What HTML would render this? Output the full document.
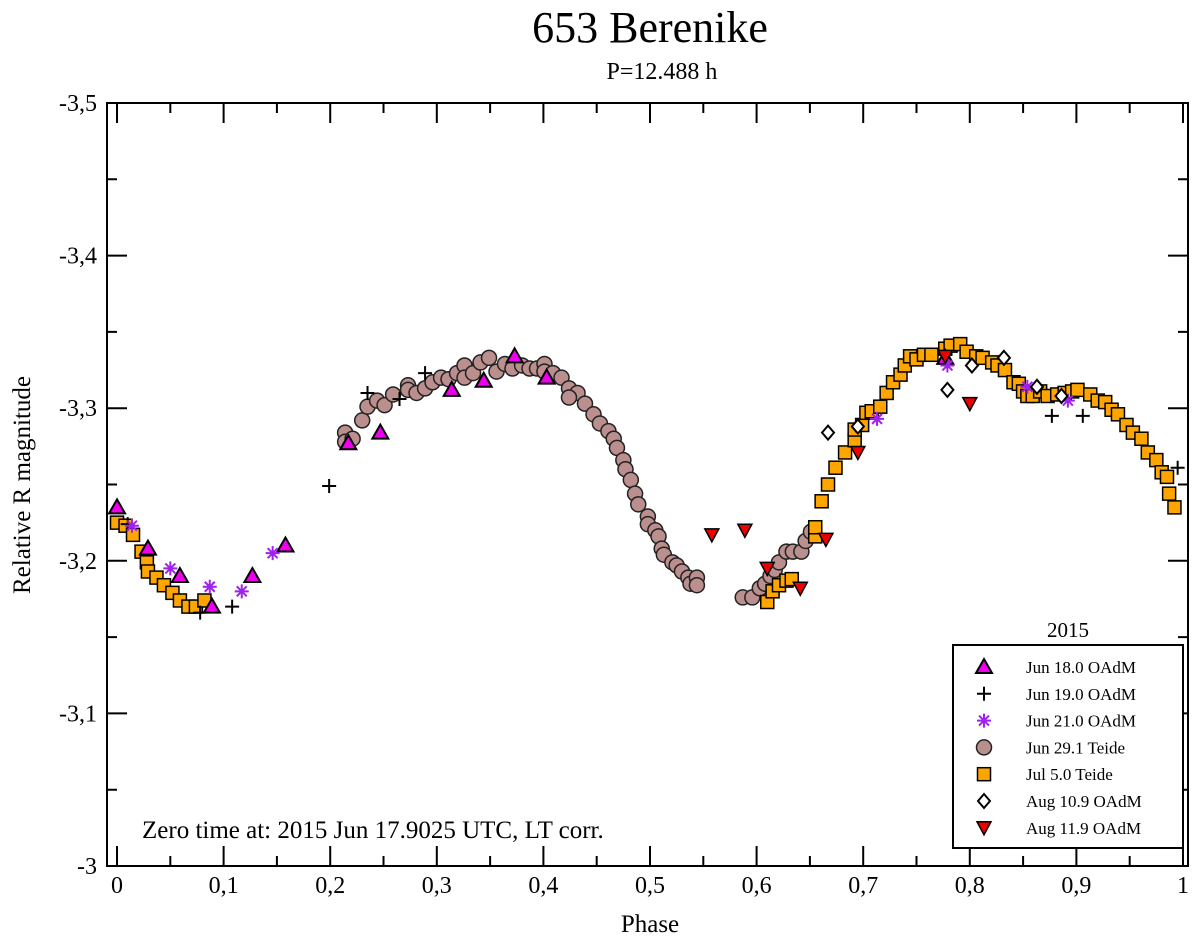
<!DOCTYPE html>
<html><head><meta charset="utf-8"><style>
html,body{margin:0;padding:0;background:#fff;}
svg{display:block;font-family:"Liberation Serif",serif;}
</style></head><body>
<svg id="chart" width="1200" height="939" viewBox="0 0 1200 939" xmlns="http://www.w3.org/2000/svg">
<text x="650" y="42" font-size="44" text-anchor="middle">653 Berenike</text>
<text x="662" y="79" font-size="24" text-anchor="middle">P=12.488 h</text>
<text transform="translate(30,485) rotate(-90)" font-size="25" text-anchor="middle">Relative R magnitude</text>
<text x="650" y="932" font-size="25" text-anchor="middle">Phase</text>
<g id="axes"></g>
<g id="marks"></g>
<text x="142" y="838" font-size="25">Zero time at: 2015 Jun 17.9025 UTC,  LT corr.</text>
<g id="legend"></g>
</svg>
<script>
const xTicks=[0,0.1,0.2,0.3,0.4,0.5,0.6,0.7,0.8,0.9,1];
const xTickLabels=["0","0,1","0,2","0,3","0,4","0,5","0,6","0,7","0,8","0,9","1"];
const yTicks=[-3.5,-3.4,-3.3,-3.2,-3.1,-3.0];
const yTickLabels=["-3,5","-3,4","-3,3","-3,2","-3,1","-3"];
const seriesNames=["Jun 18.0 OAdM","Jun 19.0 OAdM","Jun 21.0 OAdM","Jun 29.1 Teide","Jul 5.0 Teide","Aug 10.9 OAdM","Aug 11.9 OAdM"];
const jun18Phase=[0.0,0.029,0.059,0.089,0.127,0.158,0.217,0.247,0.314,0.344,0.373,0.403,0.777];
const jun18Mag=[-3.235,-3.208,-3.190,-3.170,-3.190,-3.210,-3.277,-3.284,-3.312,-3.318,-3.334,-3.320,-3.333];
const jun19Phase=[0.01,0.078,0.108,0.199,0.235,0.265,0.289,0.877,0.906,0.995];
const jun19Mag=[-3.224,-3.166,-3.170,-3.249,-3.310,-3.306,-3.323,-3.295,-3.295,-3.261];
const jun21Phase=[0.014,0.05,0.087,0.117,0.146,0.713,0.779,0.854,0.892];
const jun21Mag=[-3.223,-3.195,-3.183,-3.180,-3.205,-3.293,-3.328,-3.314,-3.305];
const jun29Phase=[0.214,0.214,0.221,0.230,0.235,0.244,0.251,0.259,0.273,0.273,0.281,0.289,0.296,0.304,0.311,0.319,0.326,0.326,0.334,0.341,0.349,0.356,0.364,0.371,0.380,0.387,0.394,0.401,0.401,0.409,0.417,0.424,0.432,0.424,0.439,0.447,0.453,0.461,0.466,0.469,0.475,0.477,0.482,0.486,0.489,0.498,0.498,0.505,0.508,0.511,0.513,0.521,0.525,0.530,0.536,0.538,0.544,0.544,0.587,0.596,0.603,0.608,0.613,0.617,0.621,0.628,0.634,0.642,0.646,0.651];
const jun29Mag=[-3.284,-3.278,-3.280,-3.292,-3.301,-3.305,-3.302,-3.309,-3.315,-3.312,-3.310,-3.313,-3.317,-3.320,-3.319,-3.323,-3.328,-3.320,-3.323,-3.330,-3.333,-3.324,-3.329,-3.326,-3.328,-3.326,-3.326,-3.329,-3.324,-3.323,-3.320,-3.313,-3.310,-3.307,-3.303,-3.296,-3.290,-3.285,-3.280,-3.274,-3.266,-3.260,-3.253,-3.244,-3.237,-3.229,-3.224,-3.220,-3.216,-3.208,-3.204,-3.199,-3.197,-3.193,-3.189,-3.185,-3.189,-3.184,-3.176,-3.176,-3.182,-3.185,-3.190,-3.194,-3.199,-3.206,-3.206,-3.206,-3.213,-3.219];
const jul5Phase=[0.000,0.008,0.015,0.023,0.028,0.029,0.037,0.044,0.052,0.059,0.067,0.074,0.082,0.610,0.615,0.621,0.628,0.633,0.655,0.655,0.661,0.667,0.674,0.683,0.692,0.692,0.699,0.703,0.708,0.716,0.722,0.728,0.735,0.739,0.744,0.750,0.757,0.764,0.777,0.782,0.791,0.797,0.806,0.812,0.821,0.826,0.833,0.841,0.846,0.850,0.854,0.859,0.866,0.873,0.882,0.889,0.896,0.901,0.913,0.920,0.927,0.933,0.939,0.947,0.953,0.961,0.967,0.975,0.980,0.985,0.987,0.992];
const jul5Mag=[-3.225,-3.223,-3.217,-3.206,-3.199,-3.193,-3.189,-3.184,-3.179,-3.174,-3.170,-3.170,-3.174,-3.173,-3.180,-3.184,-3.187,-3.188,-3.216,-3.222,-3.239,-3.250,-3.261,-3.271,-3.279,-3.286,-3.289,-3.297,-3.298,-3.301,-3.310,-3.317,-3.322,-3.328,-3.334,-3.332,-3.335,-3.335,-3.339,-3.341,-3.342,-3.337,-3.334,-3.333,-3.330,-3.328,-3.325,-3.317,-3.316,-3.311,-3.308,-3.308,-3.311,-3.308,-3.309,-3.310,-3.311,-3.312,-3.309,-3.305,-3.304,-3.299,-3.296,-3.289,-3.284,-3.280,-3.271,-3.266,-3.258,-3.255,-3.244,-3.235];
const aug10Phase=[0.667,0.695,0.779,0.802,0.832,0.863,0.886];
const aug10Mag=[-3.284,-3.288,-3.312,-3.328,-3.333,-3.314,-3.308];
const aug11Phase=[0.558,0.589,0.61,0.641,0.665,0.695,0.777,0.800];
const aug11Mag=[-3.217,-3.220,-3.195,-3.182,-3.214,-3.271,-3.334,-3.303];

const L=107,R=1188,T=103,B=866;
const X0=-0.0094,X1=1.0047,Y0=-3.5,Y1=-3.0;
function xs(v){return L+(v-X0)/(X1-X0)*(R-L);}
function ys(v){return T+(v-Y0)/(Y1-Y0)*(B-T);}
const NS="http://www.w3.org/2000/svg";
function mk(tag,attrs,parent){const e=document.createElementNS(NS,tag);for(const k in attrs)e.setAttribute(k,attrs[k]);parent.appendChild(e);return e;}
const axes=document.getElementById('axes');
const frame=mk('rect',{x:L,y:T,width:R-L,height:B-T,fill:'none',stroke:'#000','stroke-width':2},axes);


let d='';
for(let i=0;i<=20;i++){const v=i*0.05;const len=(i%2==0)?20:10;const x=xs(v);d+=`M${x},${B}V${B-len}M${x},${T}V${T+len}`;}
for(let i=0;i<=10;i++){const v=-3.5+i*0.05;const len=(i%2==0)?20:10;const y=ys(v);d+=`M${L},${y}H${L+len}M${R},${y}H${R-len}`;}
const tk=mk('path',{d:d,stroke:'#000','stroke-width':2,fill:'none'},axes);


xTicks.forEach((v,i)=>{const t=mk('text',{x:xs(v),y:B+27,'font-size':24,'text-anchor':'middle'},axes);t.textContent=xTickLabels[i];

});
yTicks.forEach((v,i)=>{const t=mk('text',{x:L-10,y:ys(v)+8,'font-size':24,'text-anchor':'end'},axes);t.textContent=yTickLabels[i];

});

function marker(type,cx,cy,parent){
  let e;
  if(type==='tri'){e=mk('path',{d:`M${cx},${cy-8}L${cx+8},${cy+6}L${cx-8},${cy+6}Z`,fill:'#ee00ee',stroke:'#000','stroke-width':2},parent);}
  else if(type==='plus'){e=mk('path',{d:`M${cx-7},${cy}H${cx+7}M${cx},${cy-7}V${cy+7}`,stroke:'#000','stroke-width':2},parent);}
  else if(type==='star'){e=mk('path',{d:`M${cx-7},${cy}H${cx+7}M${cx},${cy-7}V${cy+7}M${cx-5},${cy-5}L${cx+5},${cy+5}M${cx-5},${cy+5}L${cx+5},${cy-5}`,stroke:'#a020f0','stroke-width':2},parent);}
  else if(type==='circ'){e=mk('circle',{cx:cx,cy:cy,r:7.5,fill:'#bc8f8f',stroke:'#222','stroke-width':1.5},parent);}
  else if(type==='sq'){e=mk('rect',{x:cx-6.5,y:cy-6.5,width:13,height:13,fill:'#ffa500',stroke:'#000','stroke-width':1.5},parent);}
  else if(type==='dia'){e=mk('path',{d:`M${cx},${cy-7}L${cx+6},${cy}L${cx},${cy+7}L${cx-6},${cy}Z`,fill:'#fff',stroke:'#000','stroke-width':2},parent);}
  else {e=mk('path',{d:`M${cx-7},${cy-6}L${cx+7},${cy-6}L${cx},${cy+7}Z`,fill:'#ee0000',stroke:'#000','stroke-width':1.5},parent);}
  return e;
}
const marks=document.getElementById('marks');
const series=[['circ',jun29Phase,jun29Mag,'jun29-point'],['sq',jul5Phase,jul5Mag,'jul5-point'],['tri',jun18Phase,jun18Mag,'jun18-point'],['plus',jun19Phase,jun19Mag,'jun19-point'],['star',jun21Phase,jun21Mag,'jun21-point'],['dia',aug10Phase,aug10Mag,'aug10-point'],['inv',aug11Phase,aug11Mag,'aug11-point']];
series.forEach(s=>{s[1].forEach((p,i)=>{const e=marker(s[0],xs(p),ys(s[2][i]),marks);

});});

const lg=document.getElementById('legend');


const lb=mk('rect',{x:953,y:645,width:230,height:203,fill:'#fff',stroke:'#000','stroke-width':2},lg);


const lt=mk('text',{x:1068,y:637,'font-size':21,'text-anchor':'middle'},lg);lt.textContent='2015';


const legTypes=['tri','plus','star','circ','sq','dia','inv'];
seriesNames.forEach((n,i)=>{const y=667+i*26.8;const m=marker(legTypes[i],984,y,lg);


const t=mk('text',{x:1026,y:y+6,'font-size':17},lg);t.textContent=n;

});
</script>
</body></html>
